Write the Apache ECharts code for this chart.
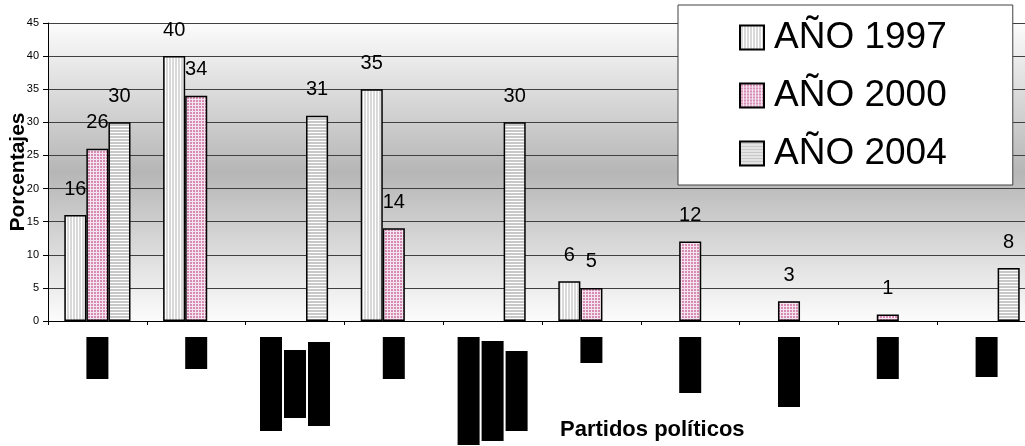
<!DOCTYPE html>
<html>
<head>
<meta charset="utf-8">
<script src="https://cdn.jsdelivr.net/npm/echarts@6/dist/echarts.min.js"></script>
<style>
html,body{margin:0;padding:0;background:#fff;}
#chart{width:1025px;height:446px;}
</style>
</head>
<body>
<div id="chart"></div>
<script>
// ---- data ----
var categories = [
  'Partido 1',
  'Partido 2',
  'Partido 3\nPartido 3\nPartido 3',
  'Partido 4',
  'Partido 5\nPartido 5\nPartido 5',
  'Partido 6',
  'Partido 7',
  'Partido 8',
  'Partido 9',
  'Partido 10'
];
var seriesNames = ['AÑO 1997', 'AÑO 2000', 'AÑO 2004'];
var values1997 = [16, 40, null, 35, null, 6, null, null, null, null];
var values2000 = [26, 34, null, 14, null, 5, 12, 3, 1, null];
var values2004 = [30, null, 31, null, 30, null, null, null, null, 8];
var yTicks = { min: 0, max: 45, interval: 5 };
var axisNames = { y: 'Porcentajes', x: 'Partidos políticos' };

// ---- styles (redaction box lengths for each label line) ----
var labelBoxLen = [[42], [32], [94, 68, 84], [42], [108, 100, 80], [26], [56], [70], [42], [40]];

function makePattern(kind) {
  var c = document.createElement('canvas');
  var ctx = c.getContext('2d');
  if (kind === 'v') {
    c.width = 3; c.height = 3;
    ctx.fillStyle = '#d9d9d9'; ctx.fillRect(0, 0, 3, 3);
    ctx.fillStyle = '#ffffff'; ctx.fillRect(0, 0, 1, 3);
  } else if (kind === 'dot') {
    c.width = 3; c.height = 3;
    ctx.fillStyle = '#d68ab4'; ctx.fillRect(0, 0, 3, 3);
    ctx.fillStyle = '#f4e4ee'; ctx.fillRect(0, 0, 3, 1); ctx.fillRect(0, 0, 1, 3);
  } else {
    c.width = 3; c.height = 3;
    ctx.fillStyle = '#c8c8c8'; ctx.fillRect(0, 0, 3, 3);
    ctx.fillStyle = '#ffffff'; ctx.fillRect(0, 0, 3, 1);
  }
  return { image: c, repeat: 'repeat' };
}

var rich = {};
labelBoxLen.forEach(function (lens, i) {
  lens.forEach(function (len, j) {
    rich['c' + i + '_' + j] = {
      width: len, height: 22, lineHeight: 24,
      backgroundColor: '#000', color: '#000', fontSize: 5, align: 'center'
    };
  });
});

var FONT = 'Liberation Sans, Arial, Helvetica, sans-serif';
var patterns = [makePattern('v'), makePattern('dot'), makePattern('h')];
var seriesData = [values1997, values2000, values2004];

var chart = echarts.init(document.getElementById('chart'), null, { renderer: 'canvas' });
chart.setOption({
  animation: false,
  backgroundColor: '#ffffff',
  textStyle: { fontFamily: FONT },
  title: {
    text: axisNames.x, left: 555, top: 414,
    textStyle: { fontFamily: FONT, fontSize: 22, fontWeight: 'bold', color: '#000' }
  },
  legend: {
    orient: 'vertical', left: 678, top: 5,
    padding: [14, 66, 13, 61],
    itemWidth: 24, itemHeight: 24, itemGap: 21,
    icon: 'rect',
    backgroundColor: '#ffffff', borderColor: '#404040', borderWidth: 1,
    textStyle: { fontFamily: FONT, fontSize: 37, color: '#000', padding: [0, 0, 0, 5] },
    data: seriesNames
  },
  grid: {
    left: 48, right: -11, top: 23, bottom: 125,
    containLabel: false, outerBoundsMode: 'none',
    show: true, borderWidth: 0,
    backgroundColor: {
      type: 'linear', x: 0, y: 0, x2: 0, y2: 1,
      colorStops: [
        { offset: 0, color: '#fcfcfc' },
        { offset: 0.5, color: '#b6b6b6' },
        { offset: 1, color: '#fcfcfc' }
      ]
    }
  },
  xAxis: {
    type: 'category', data: categories,
    axisLine: { show: true, lineStyle: { color: '#000', width: 1 } },
    axisTick: { show: true, length: 4, lineStyle: { color: '#000' } },
    axisLabel: {
      rotate: 90, margin: 16, interval: 0,
      formatter: function (value, idx) {
        return value.split('\n').map(function (l, j) { return '{c' + idx + '_' + j + '|' + l + '}'; }).join('\n');
      },
      rich: rich
    },
    splitLine: { show: false }
  },
  yAxis: {
    type: 'value', min: yTicks.min, max: yTicks.max, interval: yTicks.interval,
    name: axisNames.y, nameLocation: 'middle', nameGap: 19, nameMoveOverlap: false,
    nameTextStyle: { fontFamily: FONT, fontSize: 21, fontWeight: 'bold', color: '#000' },
    axisLine: { show: true, lineStyle: { color: '#000', width: 1 } },
    axisTick: { show: true, length: 5, lineStyle: { color: '#000' } },
    axisLabel: { fontFamily: FONT, fontSize: 11, color: '#000', margin: 9 },
    splitLine: { show: true, lineStyle: { color: '#404040', width: 1 } }
  },
  series: seriesNames.map(function (name, k) {
    return {
      name: name, type: 'bar', data: seriesData[k],
      barGap: '0%', barCategoryGap: '33%',
      itemStyle: { color: patterns[k], borderColor: '#000', borderWidth: 1.5 },
      label: {
        show: true, position: 'top', distance: 16,
        fontFamily: FONT, fontSize: 20, color: '#000'
      }
    };
  })
});
</script>
</body>
</html>
